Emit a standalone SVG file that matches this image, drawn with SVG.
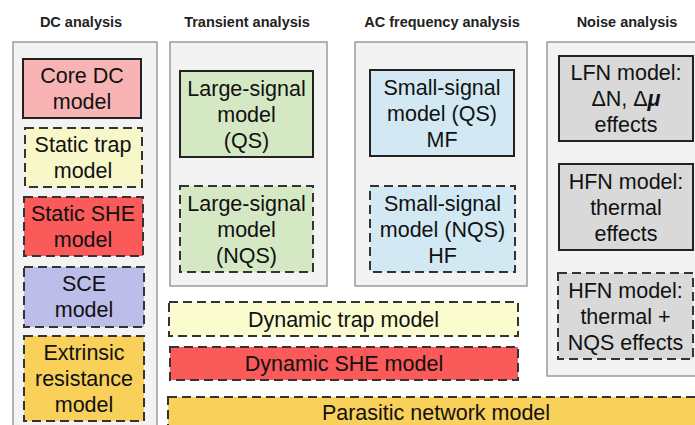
<svg xmlns="http://www.w3.org/2000/svg" width="695" height="425" viewBox="0 0 695 425">
<style>
.h{font-family:"Liberation Sans",Arial,sans-serif;font-weight:bold;font-size:14.5px;fill:#222;text-anchor:middle}
.t{font-family:"Liberation Sans",Arial,sans-serif;font-size:21.5px;fill:#111;text-anchor:middle}
.panel{fill:#f3f3f3;stroke:#9a9a9a;stroke-width:1.5}
.solid{stroke:#222;stroke-width:2}
.dash{stroke:#333;stroke-width:2;stroke-dasharray:9,5}
</style>
<rect width="695" height="425" fill="#fff"/>
<g id="headings">
<text class="h" x="81" y="27">DC analysis</text>
<text class="h" x="247" y="27">Transient analysis</text>
<text class="h" x="442" y="27">AC frequency analysis</text>
<text class="h" x="627" y="27">Noise analysis</text>
</g>
<g id="panels">
<rect class="panel" x="13" y="42" width="144" height="395"/>
<rect class="panel" x="170" y="42" width="157" height="244"/>
<rect class="panel" x="355" y="42" width="172" height="244"/>
<rect class="panel" x="547" y="42" width="160" height="334"/>
</g>
<g id="core-dc"><rect class="solid" x="23" y="59" width="118" height="59" fill="#f8b4b4"/>
<text class="t" x="82" y="83">Core DC</text><text class="t" x="82" y="109">model</text></g>
<g id="static-trap"><rect class="dash" x="25" y="128" width="117" height="59" fill="#f7f7c9"/>
<text class="t" x="83" y="152">Static trap</text><text class="t" x="83" y="178">model</text></g>
<g id="static-she"><rect class="dash" x="24" y="197" width="119" height="59" fill="#fa5a5a"/>
<text class="t" x="83" y="221">Static SHE</text><text class="t" x="83" y="247">model</text></g>
<g id="sce"><rect class="dash" x="24" y="267" width="120" height="60" fill="#bdbde9"/>
<text class="t" x="84" y="291">SCE</text><text class="t" x="84" y="317">model</text></g>
<g id="extrinsic"><rect class="dash" x="24" y="336" width="120" height="85" fill="#f8d05a"/>
<text class="t" x="84" y="360">Extrinsic</text><text class="t" x="84" y="386">resistance</text><text class="t" x="84" y="412">model</text></g>
<g id="ls-qs"><rect class="solid" x="180" y="71" width="133" height="86" fill="#d5e8c4"/>
<text class="t" x="246.5" y="96">Large-signal</text><text class="t" x="246.5" y="122">model</text><text class="t" x="246.5" y="148">(QS)</text></g>
<g id="ls-nqs"><rect class="dash" x="180" y="186" width="133" height="86" fill="#d5e8c4"/>
<text class="t" x="246.5" y="211">Large-signal</text><text class="t" x="246.5" y="237">model</text><text class="t" x="246.5" y="263">(NQS)</text></g>
<g id="ss-qs"><rect class="solid" x="370" y="70" width="144" height="86" fill="#d2e9f3"/>
<text class="t" x="442" y="95">Small-signal</text><text class="t" x="442" y="121">model (QS)</text><text class="t" x="442" y="147">MF</text></g>
<g id="ss-nqs"><rect class="dash" x="370" y="186" width="145" height="86" fill="#d2e9f3"/>
<text class="t" x="442.5" y="211">Small-signal</text><text class="t" x="442.5" y="237">model (NQS)</text><text class="t" x="442.5" y="263">HF</text></g>
<g id="lfn"><rect class="solid" x="559" y="56" width="134" height="85" fill="#d9d9d9"/>
<text class="t" x="626" y="80">LFN model:</text><text class="t" x="626" y="106">ΔN, Δ<tspan font-weight="bold" font-style="italic">μ</tspan></text><text class="t" x="626" y="132">effects</text></g>
<g id="hfn-thermal"><rect class="solid" x="559" y="164" width="134" height="86" fill="#d9d9d9"/>
<text class="t" x="626" y="189">HFN model:</text><text class="t" x="626" y="215">thermal</text><text class="t" x="626" y="241">effects</text></g>
<g id="hfn-nqs"><rect class="dash" x="558" y="273" width="135" height="86" fill="#d9d9d9"/>
<text class="t" x="625.5" y="298">HFN model:</text><text class="t" x="625.5" y="324">thermal +</text><text class="t" x="625.5" y="350">NQS effects</text></g>
<g id="dynamic-trap"><rect class="dash" x="169" y="302" width="349" height="34" fill="#fbfbd0"/>
<text class="t" x="343.5" y="326.5">Dynamic trap model</text></g>
<g id="dynamic-she"><rect class="dash" x="170" y="347" width="348" height="33" fill="#fa5a5a"/>
<text class="t" x="344" y="371">Dynamic SHE model</text></g>
<g id="parasitic"><rect class="dash" x="168" y="397" width="538" height="40" fill="#f8d05a"/>
<text class="t" x="436" y="420">Parasitic network model</text></g>
<g id="connectors"></g>
</svg>
